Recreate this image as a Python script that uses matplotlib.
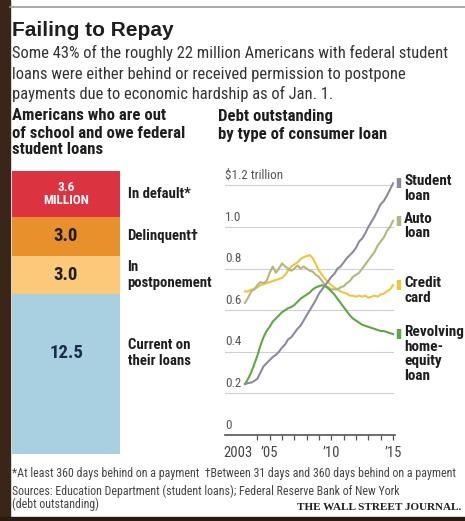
import numpy as np
import matplotlib
matplotlib.use("Agg")
from matplotlib import pyplot as plt
from matplotlib import transforms
from matplotlib import font_manager
from matplotlib.patches import Rectangle
from matplotlib.lines import Line2D

W, H = 465, 521

# Americans out of school with federal student loans, millions
status_labels = ["In default*", "Delinquent\u2020", "In\npostponement", "Current on\ntheir loans"]
status_values = [3.6, 3.0, 3.0, 12.5]
status_text = ["3.6\nMILLION", "3.0", "3.0", "12.5"]

# debt outstanding by loan type, $ trillions, quarterly 2003 Q1 - 2015 Q1
quarters = np.arange(2003.0, 2015.01, 0.25)
student_loan = [0.245, 0.25, 0.252, 0.26,
                0.27, 0.30, 0.33, 0.345,
                0.36, 0.375, 0.385, 0.40,
                0.42, 0.435, 0.46, 0.47,
                0.49, 0.51, 0.525, 0.55,
                0.575, 0.60, 0.625, 0.65,
                0.68, 0.70, 0.72, 0.74,
                0.76, 0.775, 0.80, 0.81,
                0.83, 0.85, 0.865, 0.88,
                0.90, 0.93, 0.945, 0.97,
                1.00, 1.025, 1.05, 1.08,
                1.11, 1.125, 1.15, 1.18,
                1.21]
auto_loan = [0.635, 0.66, 0.69, 0.70,
             0.72, 0.735, 0.73, 0.74,
             0.78, 0.81, 0.78, 0.80,
             0.825, 0.81, 0.80, 0.79,
             0.80, 0.815, 0.80, 0.81,
             0.80, 0.79, 0.785, 0.77,
             0.76, 0.74, 0.72, 0.71,
             0.70, 0.70, 0.70, 0.71,
             0.715, 0.73, 0.74, 0.76,
             0.77, 0.78, 0.80, 0.82,
             0.84, 0.86, 0.88, 0.91,
             0.93, 0.95, 0.98, 1.00,
             1.03]
credit_card = [0.69, 0.69, 0.70, 0.70,
               0.71, 0.72, 0.725, 0.73,
               0.735, 0.74, 0.745, 0.75,
               0.755, 0.77, 0.79, 0.81,
               0.82, 0.83, 0.845, 0.855,
               0.86, 0.865, 0.85, 0.82,
               0.79, 0.77, 0.75, 0.735,
               0.72, 0.71, 0.70, 0.69,
               0.685, 0.68, 0.67, 0.67,
               0.665, 0.67, 0.665, 0.67,
               0.66, 0.665, 0.67, 0.665,
               0.675, 0.68, 0.69, 0.70,
               0.72]
home_equity = [0.245, 0.27, 0.30, 0.34,
               0.38, 0.43, 0.47, 0.50,
               0.52, 0.545, 0.56, 0.575,
               0.59, 0.60, 0.61, 0.615,
               0.625, 0.64, 0.655, 0.665,
               0.675, 0.685, 0.70, 0.71,
               0.715, 0.72, 0.715, 0.705,
               0.69, 0.675, 0.655, 0.635,
               0.615, 0.595, 0.575, 0.56,
               0.55, 0.54, 0.53, 0.525,
               0.52, 0.515, 0.51, 0.505,
               0.50, 0.50, 0.495, 0.49,
               0.485]
series_names = ["Student\nloan", "Auto\nloan", "Credit\ncard", "Revolving\nhome-\nequity\nloan"]

debt_ticks = [0, 0.2, 0.4, 0.6, 0.8, 1.0, 1.2]
debt_labels = ["0", "0.2", "0.4", "0.6", "0.8", "1.0", "$1.2 trillion"]
year_ticks = [2003, 2005, 2010, 2015]
year_labels = ["2003", "\u201905", "\u201910", "\u201915"]

status_colors = ["#dc3340", "#e8902c", "#fcc87a", "#a8d0e1"]
status_text_colors = ["white", "#1e1e1e", "#1e1e1e", "#1c2a4c"]
line_colors = ["#8d8a9d", "#b3b67e", "#f0c53c", "#5ea843"]

# condensed face if one is around, otherwise plain Liberation Sans set a bit smaller
installed = {f.name for f in font_manager.fontManager.ttflist}
narrow = next((n for n in ["Liberation Sans Narrow", "Roboto Condensed"] if n in installed), None)
if narrow:
    plt.rcParams["font.family"] = [narrow, "DejaVu Sans"]
    K = 1.0
else:
    plt.rcParams["font.family"] = ["Liberation Sans", "DejaVu Sans"]
    K = 0.82
DARK = "#1e1e1e"


def fx(x):
    return x / W


def fy(y):
    return 1 - y / H


fig = plt.figure(figsize=(W / 100, H / 100), dpi=100)
fig.patch.set_facecolor("white")

# dark frame on the left and bottom, grey rule along the top
fig.add_artist(Rectangle((0, 0), fx(10), 1, transform=fig.transFigure, color="#3a2519", zorder=0))
fig.add_artist(Rectangle((0, 0), 1, fy(517), transform=fig.transFigure, color="#2a1a12", zorder=0))
fig.add_artist(Line2D([fx(10), 1], [fy(6.5), fy(6.5)], transform=fig.transFigure, color="#9a9a9a", lw=1.2))

# headline block
fig.text(fx(12), fy(31), "Failing to Repay", family=["Liberation Sans", "DejaVu Sans"],
         weight="bold", size=15, color=DARK, va="center")
subtitle = ["Some 43% of the roughly 22 million Americans with federal student",
            "loans were either behind or received permission to postpone",
            "payments due to economic hardship as of Jan. 1."]
for line, y in zip(subtitle, [53, 74, 94]):
    fig.text(fx(12), fy(y), line, size=11.9 * K, color="#333333", va="center")
for line, y in zip(["Americans who are out", "of school and owe federal", "student loans"], [116, 134, 150]):
    fig.text(fx(12), fy(y), line, size=12.1 * K, weight="bold", color=DARK, va="center")
for line, y in zip(["Debt outstanding", "by type of consumer loan"], [116, 134]):
    fig.text(fx(218), fy(y), line, size=12.1 * K, weight="bold", color=DARK, va="center")

# stacked status column
ax_bar = fig.add_axes([fx(12), fy(454), 108 / W, 283 / H])
bottoms = np.concatenate([[0], np.cumsum(status_values)[:-1]])
ax_bar.bar(0, status_values, bottom=bottoms, width=1, color=status_colors)
ax_bar.set_xlim(-0.5, 0.5)
ax_bar.set_ylim(sum(status_values), 0)
ax_bar.axis("off")
side = transforms.blended_transform_factory(ax_bar.transAxes, ax_bar.transData)
for i, (val, bot) in enumerate(zip(status_values, bottoms)):
    ymid = bot + min(val / 2, 4.6)
    if i == 0:
        ax_bar.text(0, ymid, status_text[i], ha="center", va="center", color=status_text_colors[i],
                    size=9.5 * K, weight="bold", linespacing=1.05)
    else:
        ax_bar.text(0, ymid, status_text[i], ha="center", va="center", color=status_text_colors[i],
                    size=13.5 * K, weight="bold")
    ax_bar.text(1.07, ymid, status_labels[i], transform=side, ha="left", va="center",
                color=DARK, size=10.6 * K, weight="bold", linespacing=1.15)

# debt lines
ax = fig.add_axes([fx(225), fy(435), 170 / W, 260 / H])
ax.set_xlim(2001.38, 2015.16)
ax.set_ylim(0, 1.25)
for v in debt_ticks[1:]:
    ax.axhline(v, xmax=0.988, color="#d0d0d0", lw=0.8, zorder=1)
for v, lab in zip(debt_ticks, debt_labels):
    ax.annotate(lab, xy=(0, v), xycoords=("axes fraction", "data"), xytext=(0, 2.5),
                textcoords="offset points", ha="left", va="bottom", size=9.4 * K, color="#555555")

all_series = [student_loan, auto_loan, credit_card, home_equity]
for idx in [2, 1, 3, 0]:
    ax.plot(quarters, all_series[idx], color=line_colors[idx], lw=1.5, zorder=3, clip_on=False)

key_shift = transforms.ScaledTranslation(5.5 / 100, 0, fig.dpi_scale_trans)
for idx, vals in enumerate(all_series):
    ax.plot(quarters[-1], vals[-1], marker="|", ms=7, mew=3.2, color=line_colors[idx],
            transform=ax.transData + key_shift, clip_on=False)
    ax.annotate(series_names[idx], xy=(quarters[-1], vals[-1]), xytext=(8, 6.5),
                textcoords="offset points", ha="left", va="top", size=11 * K, weight="bold",
                color=DARK, linespacing=1.05, annotation_clip=False)

for s in ["top", "right", "left"]:
    ax.spines[s].set_visible(False)
ax.spines["bottom"].set_color("#555555")
ax.spines["bottom"].set_linewidth(1.2)
ax.set_yticks([])
ax.xaxis.remove_overlapping_locs = False
ax.set_xticks(year_ticks)
ax.set_xticklabels(year_labels, size=10.5 * K, color="#444444")
ax.tick_params(axis="x", which="major", length=0, pad=8)
ax.set_xticks(np.arange(2004, 2016), minor=True)
ax.tick_params(axis="x", which="minor", length=3.5, width=0.9, color="#555555", direction="out")
first = ax.get_xticklabels()[0]
first.set_transform(first.get_transform() + transforms.ScaledTranslation(-7 / 100, 0, fig.dpi_scale_trans))
ax.patch.set_alpha(0)

# notes and credits
note_size = 8.6 * K
fig.text(fx(12), fy(473), "*At least 360 days behind on a payment  \u2020Between 31 days and 360 days behind on a payment",
         size=note_size, color="#444444", va="center")
fig.text(fx(12), fy(491), "Sources: Education Department (student loans); Federal Reserve Bank of New York",
         size=note_size, color="#444444", va="center")
fig.text(fx(12), fy(504), "(debt outstanding)", size=note_size, color="#444444", va="center")
fig.text(fx(461), fy(507), "THE WALL STREET JOURNAL.", family=["Liberation Serif", "DejaVu Serif"],
         weight="bold", size=8.0, color=DARK, ha="right", va="center")

fig.savefig("out.png", dpi=100)
